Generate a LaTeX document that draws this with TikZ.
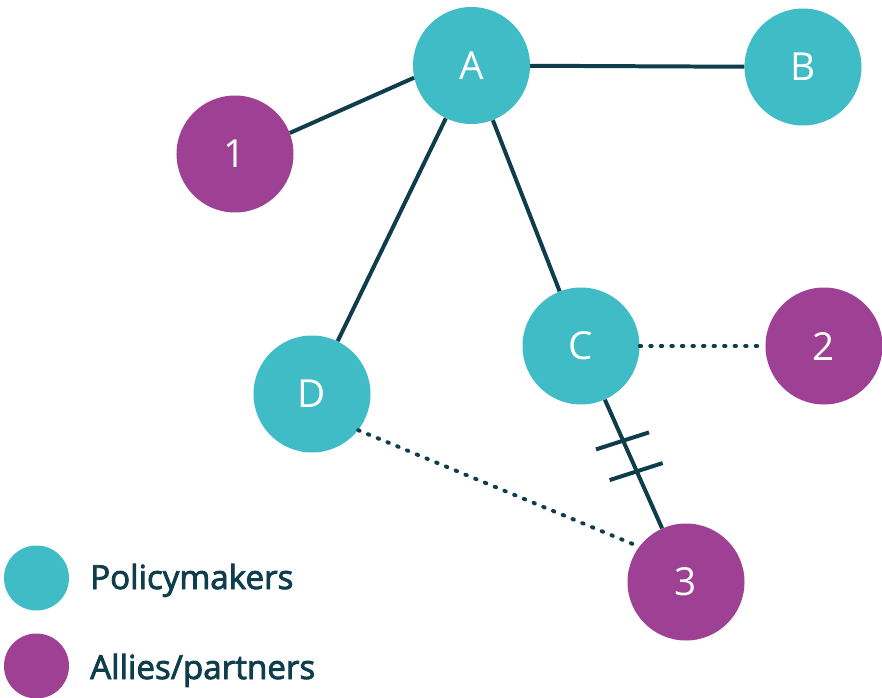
\documentclass[tikz,border=0pt]{standalone}
\usepackage{fontspec}
\setmainfont{Open Sans}
\newfontfamily\keyfont[FakeBold=2.5]{Open Sans}
\usetikzlibrary{calc}

\definecolor{polteal}{RGB}{64,188,198}
\definecolor{allypurple}{RGB}{158,64,148}
\definecolor{inkblue}{RGB}{14,61,76}

\begin{document}
\begin{tikzpicture}[x=0.03cm,y=-0.03cm,
  actor/.style={circle,fill=#1,minimum size=3.51cm,inner sep=0pt,text=white,font=\fontsize{33}{33}\selectfont},
  tie/.style={line width=3.4pt,draw=inkblue},
  weak/.style={tie,line cap=round,dash pattern=on 1.2pt off 7.8pt},
  keytext/.style={anchor=base west,inner sep=0pt,text=inkblue,font=\keyfont\fontsize{28.3}{30}\selectfont}]
  \useasboundingbox (0,0) rectangle (882,698);

  % policymakers and their allies
  \node[actor=polteal] (A) at (471.5,65.5) {A};
  \node[actor=polteal] (B) at (803,67) {B};
  \node[actor=polteal] (C) at (581,346) {C};
  \node[actor=polteal] (D) at (312,394) {D};
  \node[actor=allypurple] (1) at (235,154) {1};
  \node[actor=allypurple] (2) at (824,346) {2};
  \node[actor=allypurple] (3) at (686,582) {3};

  % links
  \draw[tie] (1.21) -- (A.192);
  \draw[tie] (A) -- (B);
  \draw[tie] (A) -- (D);
  \draw[tie] (A) -- (C);
  \draw[tie] (C) -- (3);
  \foreach \t in {0.4,0.53}
    \draw[tie] ($(C)!\t!(3)$) ++(-27,9) -- ++(53,-17);
  \draw[weak] (C) -- (2);
  \draw[weak] (D.-38) -- (3.143);

  % key
  \node[actor=polteal,minimum size=1.95cm] (keyP) at (36.5,578) {};
  \node[actor=allypurple,minimum size=1.95cm] (keyA) at (36.5,666) {};
  \node[keytext] (txtP) at (90,589) {Policymakers};
  \node[keytext] (txtA) at (90,679) {Allies/partners};
\end{tikzpicture}
\end{document}
